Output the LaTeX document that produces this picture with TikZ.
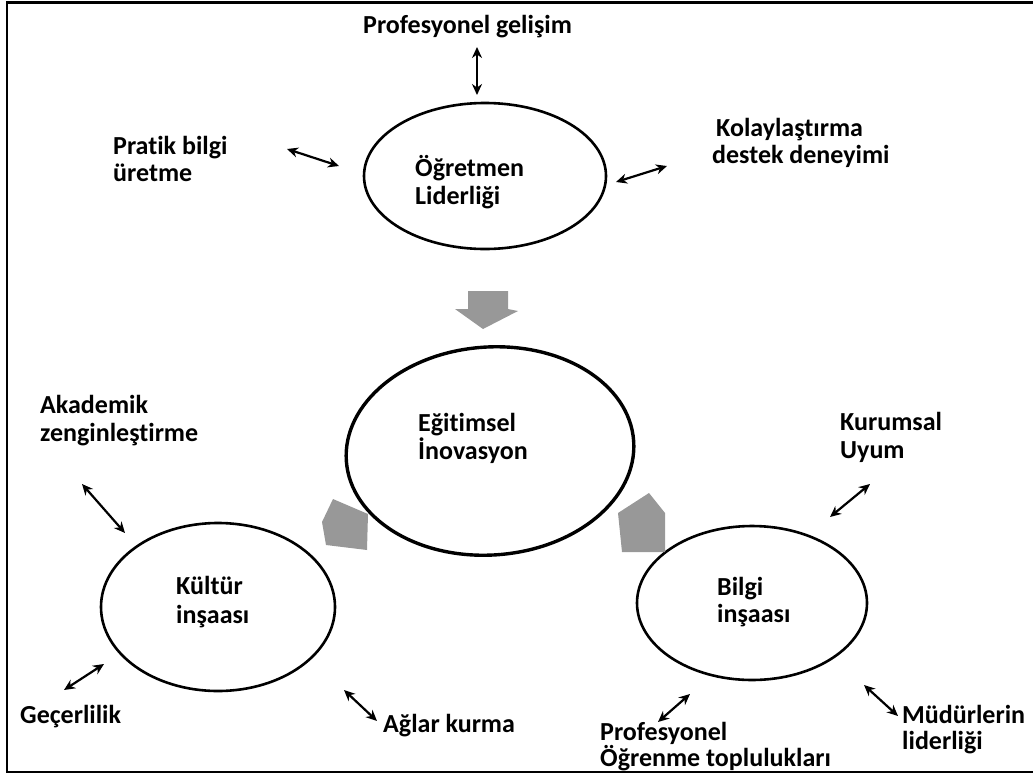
\documentclass[tikz,border=0pt]{standalone}
\usepackage{fontspec}
\setmainfont{Carlito}[Ligatures=NoCommon]
\usetikzlibrary{arrows.meta,shapes.geometric}
\definecolor{blockgray}{RGB}{152,152,152}
\begin{document}
\begin{tikzpicture}[x=1pt,y=-1pt,
  lbl/.style={anchor=base west, inner sep=0pt, font=\fontsize{26}{27}\selectfont\bfseries},
  ring/.style={draw, ellipse, line width=2.6pt, inner sep=0pt},
  link/.style={line width=2.2pt, {Stealth[length=11pt,width=10pt]}-{Stealth[length=11pt,width=10pt]}},
  block/.style={fill=blockgray, draw=none}]
\useasboundingbox (0,0) rectangle (1033,774);

% frame
\draw[line width=2.6pt] (1040,2.5) -- (7,2.5) -- (7,772) -- (1040,772);

% ellipses
\node[ring, minimum width=242pt, minimum height=146pt] (ol) at (485,176) {};
\node[ring, line width=3.4pt, minimum width=288pt, minimum height=208pt, rotate=4] (ei) at (490,451) {};
\node[ring, minimum width=234pt, minimum height=168pt] (ki) at (218,607) {};
\node[ring, minimum width=230pt, minimum height=154pt] (bi) at (752,603) {};

% texts inside the ellipses
\node[lbl] (ol1) at (415,176) {Öğretmen};
\node[lbl] (ol2) at (415,204) {Liderliği};
\node[lbl] (ei1) at (418,431) {Eğitimsel};
\node[lbl] (ei2) at (418,459) {İnovasyon};
\node[lbl] (ki1) at (176,594) {Kültür};
\node[lbl] (ki2) at (176,623) {inşaası};
\node[lbl] (bi1) at (717,595) {Bilgi};
\node[lbl] (bi2) at (717,622) {inşaası};

% outer labels
\node[lbl] (pg) at (363,33) {Profesyonel gelişim};
\node[lbl] (pr1) at (113,154) {Pratik bilgi};
\node[lbl] (pr2) at (113,181) {üretme};
\node[lbl] (ko1) at (716,136) {Kolaylaştırma};
\node[lbl] (ko2) at (712,163) {destek deneyimi};
\node[lbl] (ak1) at (40,413) {Akademik};
\node[lbl] (ak2) at (40,441) {zenginleştirme};
\node[lbl] (ku1) at (840,430) {Kurumsal};
\node[lbl] (ku2) at (840,458) {Uyum};
\node[lbl] (ge) at (20,723) {Geçerlilik};
\node[lbl] (ag) at (383,732) {Ağlar kurma};
\node[lbl] (po1) at (600,740) {Profesyonel};
\node[lbl] (po2) at (600,766) {Öğrenme toplulukları};
\node[lbl] (mu1) at (902,723) {Müdürlerin};
\node[lbl] (mu2) at (902,749) {liderliği};

% double-headed connector ends
\coordinate (pgA) at (477,47);   \coordinate (pgB) at (477,95);
\coordinate (prA) at (287,149);  \coordinate (prB) at (339,166);
\coordinate (koA) at (616,182);  \coordinate (koB) at (667,166);
\coordinate (akA) at (82,484);   \coordinate (akB) at (125,533);
\coordinate (geA) at (64,690);   \coordinate (geB) at (104,664);
\coordinate (agA) at (344,690);  \coordinate (agB) at (377,721);
\coordinate (kuA) at (830,517);  \coordinate (kuB) at (870,484);
\coordinate (poA) at (658,722);  \coordinate (poB) at (690,694);
\coordinate (muA) at (864,685);  \coordinate (muB) at (898,716);

\foreach \p in {pg,pr,ko,ak,ge,ag,ku,po,mu}
  \draw[link] (\p A) -- (\p B);

% grey block arrows towards the centre
\fill[block] (468,291) -- (508,291) -- (508,309) -- (518,311) -- (483,329) -- (455,309) -- (468,309) -- cycle;
\fill[block] (322,522) -- (333,499) -- (368,514) -- (367,550) -- (326,545) -- cycle;
\fill[block] (618,513) -- (649,493) -- (665,513) -- (665,552) -- (622,552) -- cycle;
\end{tikzpicture}
\end{document}
